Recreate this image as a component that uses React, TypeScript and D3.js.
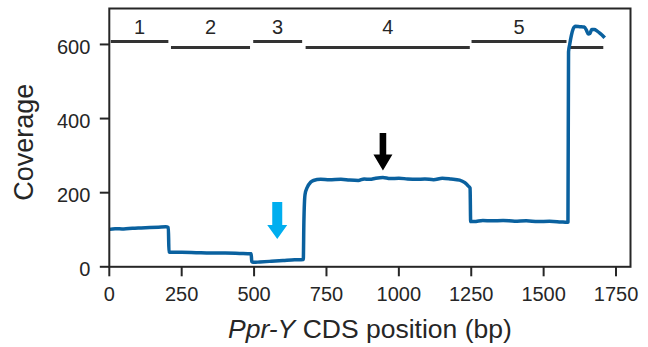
import React from 'react';
import * as d3 from 'd3';

// Coverage profile along the CDS
const positions = [0, 20, 50, 80, 110, 140, 170, 195, 204, 206, 212, 250, 300, 350, 400, 450, 490, 492, 497, 520, 560, 600, 640, 670, 672, 676, 684, 695, 705, 730, 760, 800, 830, 860, 880, 900, 920, 945, 970, 1000, 1030, 1060, 1090, 1120, 1150, 1180, 1210, 1228, 1240, 1246, 1248, 1260, 1290, 1320, 1360, 1400, 1440, 1480, 1520, 1560, 1580, 1584, 1586, 1590, 1596, 1602, 1610, 1625, 1640, 1648, 1654, 1660, 1666, 1675, 1685, 1695, 1705, 1711];
const coverage = [101, 103, 102, 104, 105, 106, 107, 108, 106, 40, 39, 39, 38, 37, 37, 36, 35, 14, 12, 13, 15, 17, 19, 20, 120, 195, 215, 228, 233, 236, 235, 236, 234, 233, 237, 236, 239, 241, 238, 239, 237, 236, 237, 235, 239, 237, 234, 227, 218, 212, 122, 122, 125, 124, 125, 123, 124, 122, 123, 121, 120, 120, 580, 600, 625, 642, 649, 648, 647, 638, 628, 630, 640, 640, 636, 630, 623, 618];

// Exon/segment bars
const segStart = [5, 213, 497, 678, 1251, 1588];
const segEnd = [204, 486, 666, 1245, 1579, 1706];
const segLevel = [608, 592, 608, 592, 608, 592];
const segLabels = ['1', '2', '3', '4', '5', ''];
const labelLevel = 629;

// Axes
const xTicks = [0, 250, 500, 750, 1000, 1250, 1500, 1750];
const yTicks = [0, 200, 400, 600];
const xDomain = [0, 1800];
const yDomain = [0, 697];

// Arrows
const arrowX = [580, 945];
const arrowFrom = [175, 361];
const arrowTo = [75, 260];
const arrowColors = ['#00aeef', '#000000'];
const arrowShaftHalf = [5, 3.3];
const arrowHeadHalf = [10, 9.5];
const arrowHeadLen = [14, 16];

const W = 648;
const H = 347;
const left = 109.3;
const right = 630.5;
const top = 8.5;
const bottom = 266.8;
const ink = '#262626';
const font = '"Liberation Sans", Arial, Helvetica, sans-serif';

export default function App() {
  const x = d3.scaleLinear().domain(xDomain).range([left, right]);
  const y = d3.scaleLinear().domain(yDomain).range([bottom, top]);
  const pts = positions.map((p, i) => [p, coverage[i]] as [number, number]);
  const line = d3
    .line<[number, number]>()
    .x((d) => x(d[0]))
    .y((d) => y(d[1]))
    .curve(d3.curveMonotoneX);

  const arrowPath = (i: number) => {
    const cx = x(arrowX[i]);
    const y0 = y(arrowFrom[i]);
    const y1 = y(arrowTo[i]);
    const sw = arrowShaftHalf[i];
    const hw = arrowHeadHalf[i];
    const hl = arrowHeadLen[i];
    return `M${cx - sw},${y0} L${cx + sw},${y0} L${cx + sw},${y1 - hl} L${cx + hw},${y1 - hl} L${cx},${y1} L${cx - hw},${y1 - hl} L${cx - sw},${y1 - hl} Z`;
  };

  return (
    <svg
      width={W}
      height={H}
      style={{ position: 'absolute', left: 0, top: 0, background: '#fff' }}
      fontFamily={font}
    >
      <rect x={0} y={0} width={W} height={H} fill="#fff" />
      {/* segments */}
      {segStart.map((s, i) => (
        <g key={'seg' + i}>
          <line
            x1={x(s)}
            x2={x(segEnd[i])}
            y1={y(segLevel[i])}
            y2={y(segLevel[i])}
            stroke="#333"
            strokeWidth={3}
          />
          {segLabels[i] && (
            <text
              x={x((s + segEnd[i]) / 2)}
              y={y(labelLevel)}
              fontSize={20}
              fill={ink}
              textAnchor="middle"
            >
              {segLabels[i]}
            </text>
          )}
        </g>
      ))}
      {/* coverage line */}
      <path d={line(pts) || ''} fill="none" stroke="#0a619f" strokeWidth={3.5} strokeLinejoin="round" />
      {/* arrows */}
      {arrowX.map((_, i) => (
        <path key={'arr' + i} d={arrowPath(i)} fill={arrowColors[i]} />
      ))}
      {/* spines */}
      <rect x={left} y={top} width={right - left} height={bottom - top} fill="none" stroke={ink} strokeWidth={2} />
      {/* x ticks */}
      {xTicks.map((t) => (
        <g key={'xt' + t}>
          <line x1={x(t)} x2={x(t)} y1={bottom} y2={bottom + 9.5} stroke={ink} strokeWidth={2} />
          <text x={x(t)} y={bottom + 34.5} fontSize={20} fill={ink} textAnchor="middle">
            {t}
          </text>
        </g>
      ))}
      {/* y ticks */}
      {yTicks.map((t) => (
        <g key={'yt' + t}>
          <line x1={left - 9.5} x2={left} y1={y(t)} y2={y(t)} stroke={ink} strokeWidth={2} />
          <text x={left - 19} y={y(t) + 9.5} fontSize={20} fill={ink} textAnchor="end">
            {t}
          </text>
        </g>
      ))}
      {/* axis labels */}
      <text x={(left + right) / 2} y={338} fontSize={26.5} fill={ink} textAnchor="middle">
        <tspan fontStyle="italic">Ppr-Y</tspan>
        <tspan> CDS position (bp)</tspan>
      </text>
      <text
        transform={`translate(33,${(top + bottom) / 2 + 4.5}) rotate(-90)`}
        fontSize={27}
        fill={ink}
        textAnchor="middle"
      >
        Coverage
      </text>
    </svg>
  );
}
